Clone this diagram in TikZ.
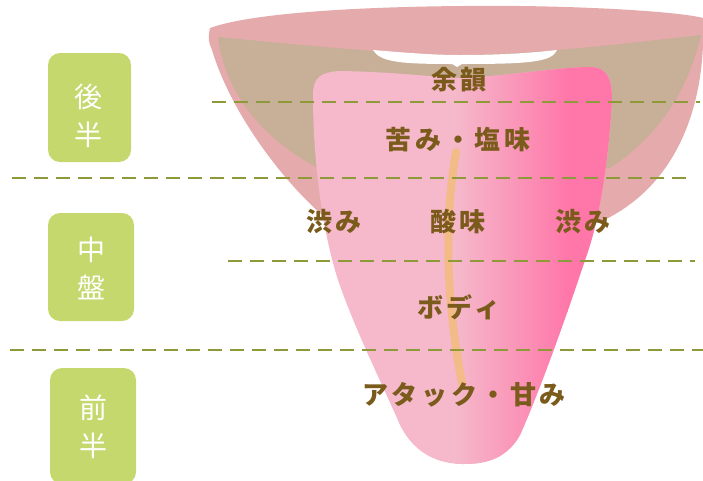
\documentclass[tikz,border=0pt]{standalone}
\usepackage{fontspec}
\newfontfamily\jp{Noto Sans CJK JP}
\newfontfamily\jpwide[LetterSpace=14]{Noto Sans CJK JP}
\definecolor{lip}{HTML}{E5AAAB}
\definecolor{throat}{HTML}{C8AF98}
\definecolor{tongueL}{HTML}{F5B9CB}
\definecolor{tongueD}{HTML}{FF77A9}
\definecolor{groove}{HTML}{F3BB88}
\definecolor{ink}{HTML}{7B5B1B}
\definecolor{olive}{HTML}{8E9A3A}
\definecolor{leaf}{HTML}{C5D86D}
\tikzset{
  taste/.style={font=\jpwide\bfseries\fontsize{26}{26}\selectfont, text=ink, inner sep=0pt},
  phasebox/.style={fill=leaf, rounded corners=12pt, draw=none},
  phase/.style={font=\jp\fontsize{28}{38}\selectfont, text=white, align=center, inner sep=0pt},
  divider/.style={draw=olive, line width=2pt, dash pattern=on 14pt off 8pt},
}
\begin{document}
\begin{tikzpicture}[x=1pt,y=-1pt]
\useasboundingbox (0,0) rectangle (703,480);

% outer funnel of the mouth
\fill[lip] (210,28) .. controls (260,10) and (400,5) .. (520,6)
  .. controls (600,7) and (680,12) .. (703,18) -- (703,45)
  .. controls (700,120) and (670,190) .. (600,222) -- (330,222)
  .. controls (280,180) and (230,110) .. (212,50)
  .. controls (208,40) .. (210,28) -- cycle;

% throat
\fill[throat] (218,37) .. controls (300,45) and (390,54) .. (460,55)
  .. controls (540,54) and (620,44) .. (701,35)
  .. controls (688,90) and (660,135) .. (610,168) -- (318,168)
  .. controls (265,140) and (225,95) .. (218,37) -- cycle;

% teeth
\fill[white] (373,50) .. controls (420,54) and (440,55) .. (460,55)
  .. controls (500,55) and (530,53) .. (557,50)
  .. controls (552,62) and (530,64) .. (462,64)
  -- (457,67) -- (452,64)
  .. controls (400,64) and (380,62) .. (373,50) -- cycle;

% tongue
\path[save path=\tonguepath] (313,95) .. controls (313,78) and (320,72) .. (340,71)
  .. controls (400,72) and (440,78) .. (460,78)
  .. controls (500,77) and (560,67) .. (590,67)
  .. controls (608,67) and (612,80) .. (612,100)
  .. controls (608,170) and (598,225) .. (585,260)
  .. controls (565,320) and (540,390) .. (520,435)
  .. controls (505,462) and (480,464) .. (463,464)
  .. controls (440,464) and (415,455) .. (400,425)
  .. controls (385,390) and (355,330) .. (338,280)
  .. controls (322,230) and (313,160) .. (313,95) -- cycle;
\fill[tongueL, use path=\tonguepath];
\begin{scope}
  \clip[use path=\tonguepath];
  \shade[left color=tongueL, right color=tongueD] (455,60) rectangle (568,470);
  \fill[tongueD] (567,60) rectangle (620,470);
\end{scope}

% median groove
\draw[groove, line width=8pt, line cap=round]
  (456,152) .. controls (444,220) and (446,300) .. (462,383);

% dividing lines
\coordinate (d1a) at (212,102); \coordinate (d1b) at (700,102);
\coordinate (d2a) at (12,178);  \coordinate (d2b) at (690,178);
\coordinate (d3a) at (228,261); \coordinate (d3b) at (695,261);
\coordinate (d4a) at (10,350);  \coordinate (d4b) at (703,350);
\draw[divider] (d1a) -- (d1b);
\draw[divider] (d2a) -- (d2b);
\draw[divider] (d3a) -- (d3b);
\draw[divider] (d4a) -- (d4b);

% taste labels
\node[taste] (yoin)   at (459,80)  {余韻};
\node[taste] (nigami) at (458,140) {苦み・塩味};
\node[taste] (shibuL) at (334,222) {渋み};
\node[taste] (sanmi)  at (458,222) {酸味};
\node[taste] (shibuR) at (583,222) {渋み};
\node[taste] (body)   at (459,307) {ボディ};
\node[taste] (attack) at (464,395) {アタック・甘み};

% phase boxes
\node[phasebox, minimum width=83pt, minimum height=109pt] (late)  at (89.5,107.5) {};
\node[phasebox, minimum width=86pt, minimum height=108pt] (mid)   at (91,267) {};
\node[phasebox, minimum width=86pt, minimum height=116pt] (early) at (93,426) {};
\node[phase] (lateT)  at (88,116) {後\\半};
\node[phase] (midT)   at (91,268) {中\\盤};
\node[phase] (earlyT) at (93,427) {前\\半};
\end{tikzpicture}
\end{document}
